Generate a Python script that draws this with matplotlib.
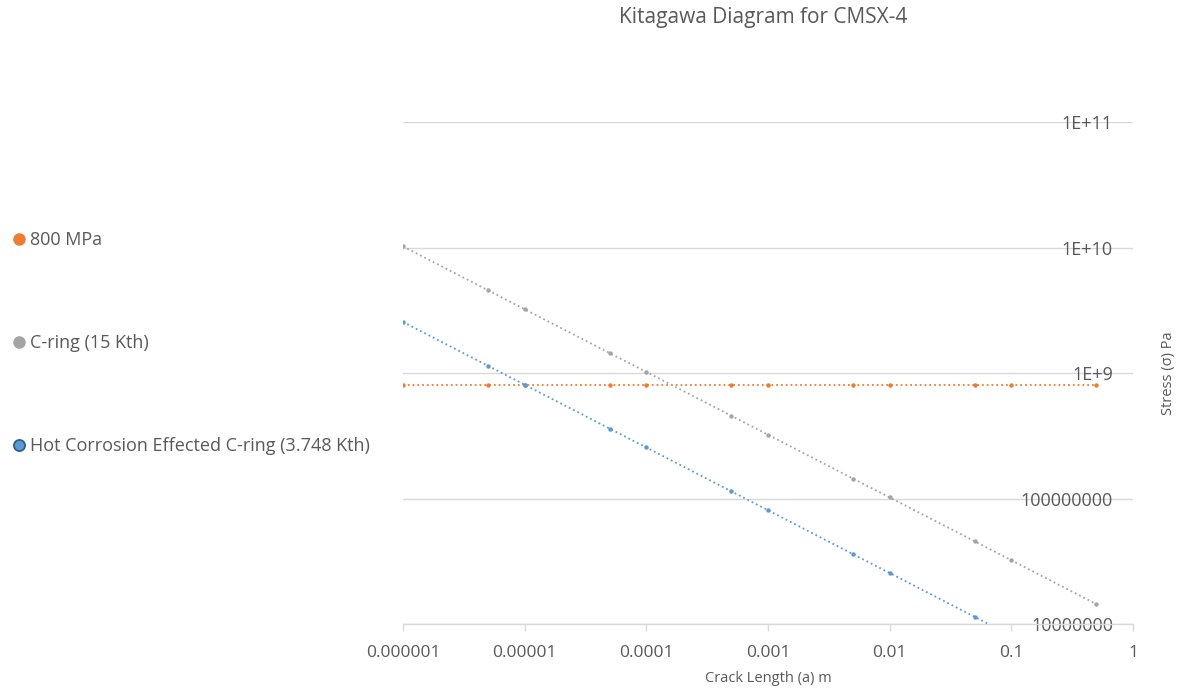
import matplotlib
matplotlib.use("Agg")
import matplotlib.pyplot as plt
from matplotlib.lines import Line2D
from matplotlib.ticker import FixedLocator, FixedFormatter, NullLocator

plt.rcParams['font.family'] = ['Open Sans', 'DejaVu Sans']

# Data
crack_length = [1e-6, 5e-6, 1e-5, 5e-5, 1e-4, 5e-4, 1e-3, 5e-3, 1e-2, 5e-2, 1e-1, 5e-1]
stress_800 = [8e8] * 12
stress_cring = [1.02e10, 4.56e9, 3.22e9, 1.44e9, 1.02e9, 4.56e8, 3.22e8, 1.44e8,
                1.02e8, 4.56e7, 3.22e7, 1.44e7]
stress_hot = [2.55e9, 1.14e9, 8.06e8, 3.6e8, 2.55e8, 1.14e8, 8.06e7, 3.6e7,
              2.55e7, 1.14e7, 8.06e6, 3.6e6]

series_names = ["800 MPa", "C-ring (15 Kth)", "Hot Corrosion Effected C-ring (3.748 Kth)"]
x_ticks = [1e-6, 1e-5, 1e-4, 1e-3, 1e-2, 1e-1, 1]
x_tick_labels = ["0.000001", "0.00001", "0.0001", "0.001", "0.01", "0.1", "1"]
y_ticks = [1e7, 1e8, 1e9, 1e10, 1e11]
y_tick_labels = ["10000000", "100000000", "1E+9", "1E+10", "1E+11"]

c_orange = "#ED7D31"
c_grey = "#A5A5A5"
c_blue = "#5B9BD5"
txt = "#595959"
gridc = "#D9D9D9"

fig = plt.figure(figsize=(11.79, 6.88), dpi=100)
ax = fig.add_axes([403/1179, 1 - 624/688, (1133 - 403)/1179, (624 - 122)/688])

ax.plot(crack_length, stress_800, linestyle=':', color=c_orange, lw=1.3,
        marker='o', ms=2.2, zorder=3)
ax.plot(crack_length, stress_cring, linestyle=':', color=c_grey, lw=1.3,
        marker='o', ms=2.2, zorder=3)
ax.plot(crack_length, stress_hot, linestyle=':', color=c_blue, lw=1.3,
        marker='o', ms=2.2, zorder=3)

ax.set_xscale('log')
ax.set_yscale('log')
ax.set_xlim(1e-6, 1)
ax.set_ylim(1e7, 1e11)

ax.xaxis.set_major_locator(FixedLocator(x_ticks))
ax.xaxis.set_major_formatter(FixedFormatter(x_tick_labels))
ax.xaxis.set_minor_locator(NullLocator())
ax.yaxis.set_major_locator(FixedLocator(y_ticks))
ax.yaxis.set_major_formatter(FixedFormatter(y_tick_labels))
ax.yaxis.set_minor_locator(NullLocator())

for s in ['top', 'left', 'right']:
    ax.spines[s].set_visible(False)
ax.spines['bottom'].set_color(gridc)
ax.spines['bottom'].set_linewidth(1.0)

ax.tick_params(axis='x', direction='out', length=5, color=gridc, width=1,
               labelsize=12.5, labelcolor=txt, pad=10)
ax.yaxis.tick_right()
ax.tick_params(axis='y', length=0, labelsize=13, labelcolor=txt, pad=-14.4)
for lab in ax.get_yticklabels():
    lab.set_horizontalalignment('right')

ax.grid(axis='y', color=gridc, lw=1.0)
ax.set_axisbelow(True)

ax.set_xlabel("Crack Length (a) m", fontsize=10.5, color=txt, labelpad=7)
ax.yaxis.set_label_position('right')
ax.set_ylabel("Stress (σ) Pa", fontsize=10.5, color=txt, labelpad=20)

fig.text(763/1179, 1 - 18/688, "Kitagawa Diagram for CMSX-4", ha='center', va='center',
         fontsize=15, color=txt)

handles = [
    Line2D([], [], linestyle='none', marker='o', ms=8, color=c_orange, mec=c_orange),
    Line2D([], [], linestyle='none', marker='o', ms=8, color=c_grey, mec=c_grey),
    Line2D([], [], linestyle='none', marker='o', ms=8, color=c_blue, mec="#2F5F8F", mew=1.3),
]
leg = fig.legend(handles, series_names, loc='upper left',
                 bbox_to_anchor=(7/1179, 1 - 226/688), frameon=False,
                 fontsize=13, labelcolor=txt, labelspacing=4.7,
                 handlelength=0.7, handletextpad=0.25, borderaxespad=0,
                 borderpad=0.3)

fig.savefig("out.png", dpi=100)
